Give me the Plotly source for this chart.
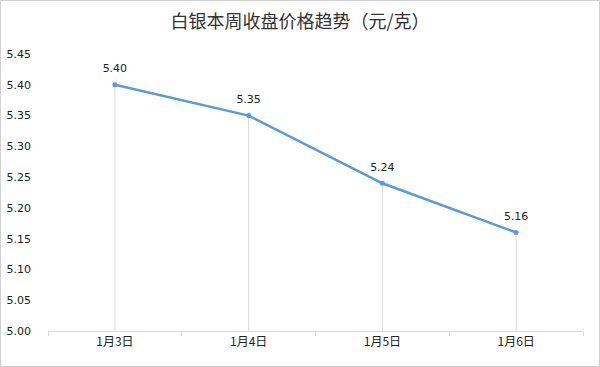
import plotly.graph_objects as go

categories = ["1月3日", "1月4日", "1月5日", "1月6日"]
prices = [5.40, 5.35, 5.24, 5.16]
y_ticks = [5.00, 5.05, 5.10, 5.15, 5.20, 5.25, 5.30, 5.35, 5.40, 5.45]
title = "白银本周收盘价格趋势（元/克）"

W, H = 600, 367
ml, mr, mt, mb = 48, 17, 54, 36
pw = W - ml - mr
ph = H - mt - mb

fig = go.Figure()

# drop lines
dx, dy = [], []
for c, v in zip(categories, prices):
    dx += [c, c, None]
    dy += [y_ticks[0], v, None]
fig.add_trace(go.Scatter(x=dx, y=dy, mode="lines",
                         line=dict(color="#d9d9d9", width=1),
                         hoverinfo="skip", showlegend=False))

fig.add_trace(go.Scatter(
    x=categories, y=prices, mode="lines+markers",
    line=dict(color="#5b9bd5", width=2.5),
    marker=dict(color="#5b9bd5", size=5),
    showlegend=False,
))

# data labels (invisible larger markers give a bit more offset)
fig.add_trace(go.Scatter(
    x=categories, y=prices, mode="markers+text",
    marker=dict(color="rgba(0,0,0,0)", size=14),
    text=[f"{v:.2f}" for v in prices],
    textposition="top center",
    textfont=dict(family="DejaVu Sans", size=11, color="#222222"),
    hoverinfo="skip", showlegend=False,
))

fig.update_layout(
    width=W, height=H,
    margin=dict(l=ml, r=mr, t=mt, b=mb, autoexpand=False),
    paper_bgcolor="white", plot_bgcolor="white",
    title=dict(text=title, x=0.5, xanchor="center", y=1 - 22 / H, yanchor="middle",
               font=dict(family="Noto Sans CJK SC", size=18, color="#333333")),
    xaxis=dict(type="category", range=[-0.5, len(categories) - 0.5],
               showgrid=False, showline=True, linecolor="#d9d9d9", linewidth=1,
               ticks="outside", tickson="boundaries", ticklen=4, tickcolor="#d9d9d9",
               tickfont=dict(family="Noto Sans CJK SC", size=12, color="#222222"),
               zeroline=False, automargin=False),
    yaxis=dict(range=[y_ticks[0], y_ticks[-1]], tickvals=y_ticks,
               ticktext=[f"{v:.2f}" for v in y_ticks],
               showgrid=False, showline=False, zeroline=False,
               ticklabelstandoff=16, automargin=False,
               tickfont=dict(family="DejaVu Sans", size=11, color="#222222")),
    shapes=[dict(type="rect", xref="paper", yref="paper",
                 x0=-ml / pw + 0.5 / pw, x1=1 + mr / pw - 0.5 / pw,
                 y0=-mb / ph + 0.5 / ph, y1=1 + mt / ph - 0.5 / ph,
                 line=dict(color="#d0d0d0", width=1), layer="below")],
)

fig.write_html("out.html", config={"displayModeBar": False},
               post_script="document.body.style.margin='0';document.body.style.overflow='hidden';")
